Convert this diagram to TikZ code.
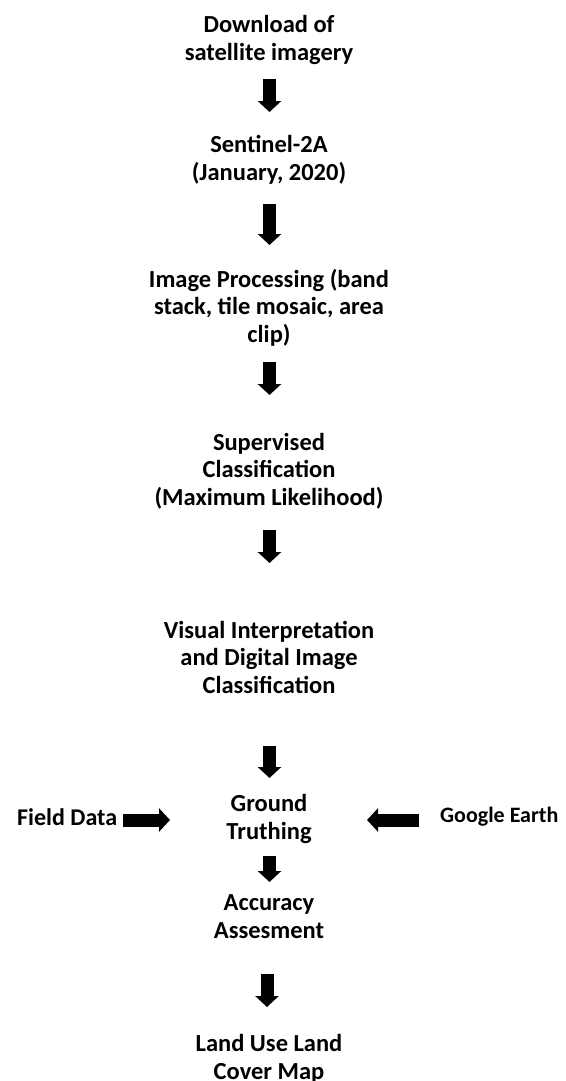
\documentclass[tikz,border=0pt]{standalone}
\usepackage{fontspec}
\setmainfont{Carlito}
\usetikzlibrary{arrows.meta}
\begin{document}
\begin{tikzpicture}[x=1pt,y=-1pt,
  lbl/.style={font=\bfseries\fontsize{24.5}{27.5}\selectfont, align=center, inner sep=0pt, anchor=base},
  side/.style={font=\bfseries\fontsize{24}{27.5}\selectfont, inner sep=0pt, anchor=base west},
  blk/.style={line width=13pt, -{Triangle[width=23pt,length=11pt]}}]
\useasboundingbox (0,0) rectangle (565,1081);
% anchor base = baseline of the last line
\node[lbl] (dl) at (269,60) {Download of\\satellite imagery};
\node[lbl] (sen) at (269,180) {Sentinel-2A\\(January, 2020)};
\node[lbl] (img) at (269,342) {Image Processing (band\\stack, tile mosaic, area\\clip)};
\node[lbl] (sup) at (269,505) {Supervised\\Classification\\(Maximum Likelihood)};
\node[lbl] (vis) at (269,693) {Visual Interpretation\\and Digital Image\\Classification};
\node[lbl] (gt) at (269,839) {Ground\\Truthing};
\node[lbl] (acc) at (269,938) {Accuracy\\Assesment};
\node[lbl] (lu) at (269,1079) {Land Use Land\\Cover Map};
\node[side] (fd) at (17,825) {Field Data};
\node[side, font=\bfseries\fontsize{22}{26}\selectfont] (ge) at (440,822) {Google Earth};
\coordinate (a1s) at (269.5,79);  \coordinate (a1e) at (269.5,112);
\coordinate (a2s) at (269.5,204); \coordinate (a2e) at (269.5,245);
\coordinate (a3s) at (269.5,362); \coordinate (a3e) at (269.5,395);
\coordinate (a4s) at (269.5,530); \coordinate (a4e) at (269.5,563);
\coordinate (a5s) at (269.5,746); \coordinate (a5e) at (269.5,778);
\coordinate (a6s) at (269.5,856); \coordinate (a6e) at (269.5,882);
\coordinate (a7s) at (267,974);   \coordinate (a7e) at (267,1007);
\coordinate (fds) at (123,820);   \coordinate (fde) at (170,820);
\coordinate (ges) at (419,820);   \coordinate (gee) at (367,820);
\draw[blk] (a1s) -- (a1e);
\draw[blk] (a2s) -- (a2e);
\draw[blk] (a3s) -- (a3e);
\draw[blk] (a4s) -- (a4e);
\draw[blk] (a5s) -- (a5e);
\draw[blk] (a6s) -- (a6e);
\draw[blk] (a7s) -- (a7e);
\draw[blk] (fds) -- (fde);
\draw[blk] (ges) -- (gee);
\end{tikzpicture}
\end{document}
